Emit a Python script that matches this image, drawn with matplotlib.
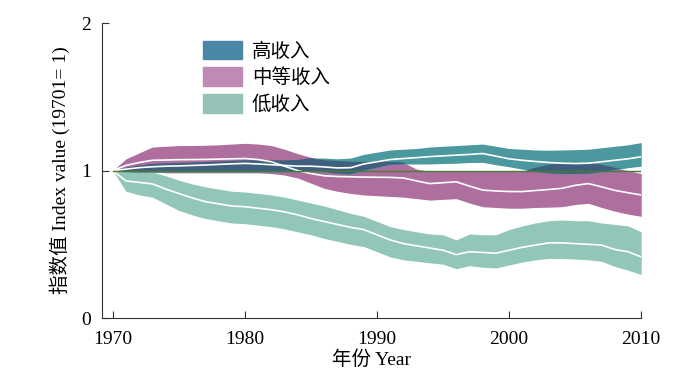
import numpy as np
import matplotlib.pyplot as plt
from matplotlib.patches import Patch

years = np.arange(1970, 2011)

# 高收入 (high income)
high_top = [1.00, 1.02, 1.035, 1.045, 1.05, 1.052, 1.055, 1.058, 1.062, 1.066,
            1.07, 1.07, 1.07, 1.07, 1.072, 1.085, 1.085, 1.08, 1.085, 1.11,
            1.125, 1.14, 1.145, 1.15, 1.16, 1.165, 1.17, 1.175, 1.18, 1.165,
            1.15, 1.145, 1.14, 1.138, 1.14, 1.142, 1.145, 1.155, 1.165, 1.175, 1.19]
high_mid = [1.00, 1.01, 1.02, 1.026, 1.03, 1.032, 1.035, 1.038, 1.042, 1.046,
            1.049, 1.045, 1.04, 1.035, 1.03, 1.03, 1.025, 1.018, 1.02, 1.045,
            1.06, 1.075, 1.082, 1.088, 1.095, 1.10, 1.105, 1.11, 1.116, 1.098,
            1.08, 1.07, 1.062, 1.055, 1.05, 1.048, 1.05, 1.06, 1.07, 1.08, 1.094]
high_bot = [1.00, 0.99, 0.99, 0.99, 0.99, 0.99, 0.99, 0.99, 0.99, 0.99,
            0.99, 0.99, 0.99, 0.99, 0.99, 0.995, 0.99, 0.98, 0.975, 1.00,
            1.02, 1.04, 1.045, 1.045, 1.045, 1.048, 1.05, 1.055, 1.056, 1.04,
            1.026, 1.01, 0.99, 0.982, 0.978, 0.978, 0.98, 0.99, 1.005, 1.02, 1.03]

# 中等收入 (middle income)
mid_top = [1.00, 1.08, 1.12, 1.16, 1.165, 1.17, 1.17, 1.172, 1.175, 1.18,
           1.185, 1.18, 1.17, 1.145, 1.115, 1.09, 1.07, 1.065, 1.06, 1.06,
           1.06, 1.06, 1.055, 1.01, 0.995, 0.995, 0.995, 0.995, 0.995, 0.995,
           0.995, 0.995, 1.02, 1.04, 1.05, 1.05, 1.05, 1.04, 1.02, 1.00, 0.98]
mid_mid = [1.00, 1.035, 1.055, 1.07, 1.072, 1.074, 1.075, 1.076, 1.078, 1.08,
           1.082, 1.075, 1.06, 1.03, 1.00, 0.98, 0.965, 0.96, 0.958, 0.956,
           0.955, 0.954, 0.95, 0.93, 0.912, 0.918, 0.924, 0.895, 0.868, 0.862,
           0.858, 0.858, 0.865, 0.872, 0.88, 0.90, 0.912, 0.89, 0.866, 0.85, 0.835]
mid_bot = [1.00, 0.995, 0.99, 0.99, 0.985, 0.985, 0.985, 0.985, 0.985, 0.985,
           0.985, 0.985, 0.98, 0.97, 0.95, 0.915, 0.88, 0.86, 0.845, 0.835,
           0.83, 0.825, 0.82, 0.81, 0.80, 0.805, 0.81, 0.78, 0.755, 0.75,
           0.745, 0.745, 0.75, 0.752, 0.755, 0.77, 0.778, 0.75, 0.725, 0.705, 0.69]

# 低收入 (low income)
low_top = [1.00, 0.99, 0.995, 0.99, 0.965, 0.935, 0.91, 0.89, 0.875, 0.86,
           0.855, 0.845, 0.835, 0.82, 0.80, 0.78, 0.76, 0.735, 0.71, 0.69,
           0.655, 0.62, 0.60, 0.585, 0.57, 0.565, 0.53, 0.57, 0.565, 0.565,
           0.60, 0.625, 0.645, 0.66, 0.665, 0.66, 0.66, 0.645, 0.635, 0.625, 0.585]
low_mid = [1.00, 0.93, 0.92, 0.91, 0.875, 0.845, 0.815, 0.79, 0.775, 0.76,
           0.755, 0.745, 0.735, 0.72, 0.70, 0.675, 0.655, 0.635, 0.615, 0.60,
           0.565, 0.53, 0.505, 0.49, 0.475, 0.46, 0.43, 0.45, 0.445, 0.44,
           0.46, 0.48, 0.495, 0.51, 0.51, 0.505, 0.50, 0.495, 0.465, 0.45, 0.415]
low_bot = [1.00, 0.86, 0.835, 0.82, 0.775, 0.73, 0.70, 0.675, 0.66, 0.645,
           0.64, 0.63, 0.62, 0.605, 0.585, 0.565, 0.54, 0.52, 0.50, 0.485,
           0.45, 0.415, 0.395, 0.385, 0.375, 0.365, 0.335, 0.355, 0.345, 0.34,
           0.36, 0.38, 0.395, 0.405, 0.405, 0.40, 0.395, 0.385, 0.35, 0.325, 0.295]

labels = ['高收入', '中等收入', '低收入']

plt.rcParams['font.family'] = ['Liberation Serif', 'Noto Sans CJK SC']

fig = plt.figure(figsize=(7, 3.86), dpi=100)
ax = fig.add_axes([0.146, 0.176, 0.77, 0.764])

ax.fill_between(years, low_bot, low_top, color='#92c6b8', lw=0)
ax.fill_between(years, mid_bot, mid_top, color='#ae6f9f', lw=0)
ax.fill_between(years, high_bot, high_top, color='#4b989e', lw=0)
# overlap of high and middle bands
ov_lo = np.maximum(high_bot, mid_bot)
ov_hi = np.minimum(high_top, mid_top)
ax.fill_between(years, ov_lo, ov_hi, where=ov_hi > ov_lo, interpolate=True,
                color='#3f5f7e', lw=0)

for m in (low_mid, mid_mid, high_mid):
    ax.plot(years, m, color='white', lw=1.2)
ax.axhline(1, xmin=(1970 - 1969.2) / 40.8, color='#4a7a3a', lw=1.0)

# legend
handles = [Patch(color='#4a86a6'), Patch(color='#c08ab6'), Patch(color='#94c2b6')]
ax.legend(handles, labels, loc='upper left', bbox_to_anchor=(0.155, 1.0),
          frameon=False, fontsize=14, handlelength=2.0, handleheight=1.1,
          labelspacing=0.35, handletextpad=0.5)

ax.set_xlim(1969.2, 2010)
ax.set_ylim(0, 2)
ax.set_xticks([1970, 1980, 1990, 2000, 2010])
ax.set_yticks([0, 1, 2])
ax.tick_params(direction='in', length=5, labelsize=14, color='#333333')
ax.tick_params(axis='x', pad=9)
ax.tick_params(axis='y', pad=8)
for s in ('top', 'right'):
    ax.spines[s].set_visible(False)
for s in ('left', 'bottom'):
    ax.spines[s].set_color('#333333')
ax.set_xlabel('年份 Year', fontsize=14, labelpad=2)
ax.set_ylabel('指数值 Index value (19701= 1)', fontsize=14, labelpad=8)

fig.savefig('out.png', dpi=100)
